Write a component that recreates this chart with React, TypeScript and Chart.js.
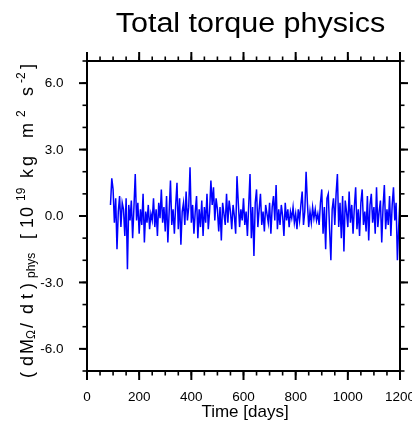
import React, { useEffect, useRef } from "react";
import { Chart, registerables } from "chart.js";

Chart.register(...registerables);

// ---- data ----
const startDay = 90;
const stepDays = 5;
const torqueValues = [
  0.5, 1.7, 1.2, -0.3, 0.8, -1.5, 0.2, 0.9, -0.5, 0.6,
  0.3, -0.9, 0.8, -2.4, 0.5, -0.2, 0.7, -1.0, 0.4, 1.9,
  -0.2, 0.6, -0.8, 0.3, -0.4, 1.0, -1.2, 0.2, -0.3, 0.5,
  -0.6, 0.1, -0.2, 0.8, -0.5, 0.3, -0.9, 0.6, -0.1, 1.2,
  -0.3, 0.4, -0.7, 0.9, -1.2, 0.2, 1.6, -0.4, 0.3, -0.8,
  0.5, 1.5, -0.6, 0.8, -1.3, 0.2, 0.6, -0.4, 1.1, -0.2,
  0.4, 2.2, -0.3, 0.5, -0.8, 0.2, 0.9, -1.0, 0.3, -0.5,
  0.7, -0.9, 0.4, -0.3, 1.0, -0.6, 0.2, 1.6, 0.5, 1.3,
  -0.2, 0.8, 0.3, -0.7, 0.4, -1.1, 0.6, 0.1, -0.4, 1.0,
  -0.3, 0.7, 0.2, -0.6, 0.5, 0.0, -0.8, 1.8, 0.6, -0.5,
  0.3, -0.2, 0.8, -0.4, 0.2, -0.9, 0.5, 1.9, -1.0, 0.4,
  -1.8, 0.6, 1.2, -0.5, 0.3, 1.0, -0.4, 0.2, -0.7, 0.5,
  0.1, -0.3, 0.6, -0.8, 0.4, 0.9, -0.2, 1.4, -0.6, 0.3,
  -0.4, 0.5, 0.0, -0.9, 0.6, -0.2, 0.3, -0.5, 0.2, -0.1,
  0.4, -0.3, 0.1, -0.6, 0.3, -0.2, 0.5, 1.1, -0.4, 0.2,
  2.0, 0.6, -0.5, 0.2, -0.3, 0.4, -0.1, 0.3, -0.2, 0.1,
  -0.4, 0.6, 1.2, -0.8, 0.4, -1.5, 0.8, 1.0, -0.6, -2.0,
  0.3, 0.8, -0.4, 1.0, 1.9, -0.5, 0.6, -1.0, 0.9, -1.6,
  0.7, 0.2, -0.5, 1.1, -0.3, 0.5, -0.8, 0.4, 1.3, -0.6,
  0.3, -0.9, 0.6, 1.2, -0.4, 0.2, -0.7, 0.9, -1.1, 0.5,
  1.0, -0.3, 0.4, -0.8, 1.3, -0.5, 0.2, 0.7, -1.2, 0.4,
  1.4, -0.6, 0.3, -0.4, 0.9, -0.9, 0.5, 1.3, -0.2, 0.6,
  -2.0, -0.5, 0.8,
];

const xMajorTicks = [0, 200, 400, 600, 800, 1000, 1200];
const xTickLabels = ["0", "200", "400", "600", "800", "1000", "1200"];
const xMinorStep = 50;
const yMajorTicks = [-6, -3, 0, 3, 6];
const yTickLabels = ["-6.0", "-3.0", "0.0", "3.0", "6.0"];
const yMinorStep = 1;

const titleText = "Total torque physics";
const xTitleText = "Time [days]";
// y axis label pieces: [text, kind, screen-y start]
const yLabelRuns: [string, string, number][] = [
  ["(", "m", 378],
  ["d", "m", 366],
  ["M", "m", 354],
  ["Ω", "sub", 339],
  ["/", "m", 328],
  ["d", "m", 314],
  ["t", "m", 299],
  [")", "m", 289],
  ["phys", "sub", 278],
  ["[", "m", 239],
  ["1", "m", 228],
  ["0", "m", 217],
  ["19", "sup", 201],
  ["k", "m", 178],
  ["g", "m", 166],
  ["m", "m", 138],
  ["2", "sup", 117],
  ["s", "m", 96],
  ["-2", "sup", 83],
  ["]", "m", 69],
];

const FONT = '"Liberation Sans", Arial, Helvetica, sans-serif';

const framePlugin = {
  id: "ncfFrame",
  afterDraw(chart: any) {
    const { ctx, chartArea } = chart;
    const xs = chart.scales.x;
    const ys = chart.scales.y;
    const { left, right, top, bottom } = chartArea;
    ctx.save();
    ctx.strokeStyle = "#000";
    ctx.fillStyle = "#000";
    ctx.lineCap = "butt";
    ctx.lineWidth = 2;
    ctx.strokeRect(left, top, right - left, bottom - top);

    const line = (x1: number, y1: number, x2: number, y2: number) => {
      ctx.beginPath();
      ctx.moveTo(x1, y1);
      ctx.lineTo(x2, y2);
      ctx.stroke();
    };
    ctx.lineWidth = 1.6;
    for (let v = xs.min; v <= xs.max + 1e-9; v += xMinorStep) {
      const px = xs.getPixelForValue(v);
      line(px, bottom, px, bottom + 4.5);
      line(px, top, px, top - 4.5);
    }
    for (let v = Math.ceil(ys.min); v <= ys.max + 1e-9; v += yMinorStep) {
      const py = ys.getPixelForValue(v);
      line(left, py, left - 4.5, py);
      line(right, py, right + 4.5, py);
    }
    ctx.lineWidth = 2;
    xMajorTicks.forEach((v) => {
      const px = xs.getPixelForValue(v);
      line(px, bottom, px, bottom + 9);
      line(px, top, px, top - 9);
    });
    yMajorTicks.forEach((v) => {
      const py = ys.getPixelForValue(v);
      line(left, py, left - 8, py);
      line(right, py, right + 8, py);
    });

    // tick labels
    ctx.font = `13.5px ${FONT}`;
    ctx.textAlign = "center";
    ctx.textBaseline = "alphabetic";
    xMajorTicks.forEach((v, i) => {
      ctx.fillText(xTickLabels[i], xs.getPixelForValue(v), 400.5);
    });
    ctx.textAlign = "right";
    ctx.textBaseline = "middle";
    yMajorTicks.forEach((v, i) => {
      ctx.fillText(yTickLabels[i], 63.5, ys.getPixelForValue(v) + 0.5);
    });

    // x title
    ctx.font = `17px ${FONT}`;
    ctx.textAlign = "center";
    ctx.textBaseline = "alphabetic";
    ctx.fillText(xTitleText, 245, 417);

    // title
    ctx.save();
    ctx.font = `27px ${FONT}`;
    ctx.textAlign = "center";
    ctx.translate(250.5, 32);
    ctx.scale(1.13, 1);
    ctx.fillText(titleText, 0, 0);
    ctx.restore();

    // y title
    ctx.textAlign = "left";
    ctx.textBaseline = "alphabetic";
    yLabelRuns.forEach(([t, kind, at]) => {
      ctx.save();
      let bx = 33;
      if (kind === "sub") {
        bx = 35;
        ctx.font = `12px ${FONT}`;
      } else if (kind === "sup") {
        bx = 25;
        ctx.font = `12px ${FONT}`;
      } else {
        ctx.font = `18px ${FONT}`;
      }
      ctx.translate(bx, at);
      ctx.rotate(-Math.PI / 2);
      ctx.fillText(t, 0, 0);
      ctx.restore();
    });
    ctx.restore();
  },
};

export default function App() {
  const ref = useRef<HTMLCanvasElement | null>(null);
  useEffect(() => {
    document.body.style.margin = "0";
    const canvas = ref.current;
    if (!canvas) return;
    const points = torqueValues.map((v, i) => ({ x: startDay + i * stepDays, y: v }));
    const chart = new Chart(canvas, {
      type: "line",
      data: {
        datasets: [
          {
            data: points,
            borderColor: "#0000ff",
            borderWidth: 1.5,
            pointRadius: 0,
            tension: 0,
            fill: false,
          },
        ],
      },
      options: {
        responsive: false,
        animation: false,
        events: [],
        layout: { padding: { left: 87, right: 12, top: 61, bottom: 58 } },
        plugins: { legend: { display: false }, tooltip: { enabled: false }, title: { display: false } },
        scales: {
          x: { type: "linear", min: 0, max: 1200, display: false },
          y: { type: "linear", min: -7, max: 7, display: false },
        },
      },
      plugins: [framePlugin],
    });
    return () => chart.destroy();
  }, []);
  return (
    <div style={{ position: "absolute", left: 0, top: 0, width: 412, height: 429, background: "#fff" }}>
      <canvas ref={ref} width={412} height={429} />
    </div>
  );
}
